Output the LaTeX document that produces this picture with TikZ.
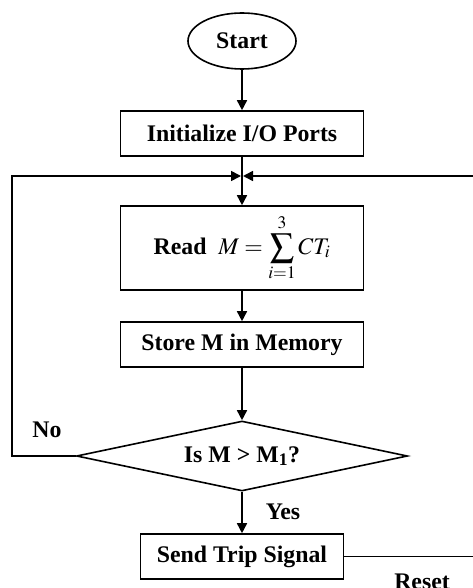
\documentclass[tikz,border=0pt]{standalone}
\usepackage{mathptmx}
\usepackage{fontspec}
\setmainfont{Liberation Serif}
\usetikzlibrary{shapes.geometric,arrows.meta}
\begin{document}
\begin{tikzpicture}[x=1pt,y=-1pt, line width=1.6pt,
  every node/.style={font=\fontsize{23.8}{28}\selectfont\bfseries},
  box/.style={draw, rectangle, minimum width=243pt, minimum height=45pt, inner sep=0pt},
  arr/.style={-{Triangle[length=10pt,width=10pt]}}
]
\useasboundingbox (0,0) rectangle (472,588);
\node[draw, ellipse, minimum width=108pt, minimum height=56pt, inner sep=0pt] (start) at (242,41) {Start};
\node[box] (init) at (242,133.5) {Initialize I/O Ports};
\coordinate (junc) at (242,176);
\node[box, minimum height=84pt] (read) at (242,248) {Read\ \ $\displaystyle M=\sum_{i=1}^{3}CT_i$};
\node[box] (store) at (242,344.5) {Store M in Memory};
\node[draw, diamond, aspect=4.7, minimum width=331pt, minimum height=70pt, inner sep=0pt] (dec) at (242,456) {Is M > M\textsubscript{1}?};
\node[box, minimum width=203pt] (send) at (242,556.5) {Send Trip Signal};
\coordinate (lcorner) at (12,456);
\coordinate (redge) at (473,176);
\coordinate (resetend) at (473,556.5);

\draw[arr] (start) -- (init);
\draw[arr] (init) -- (read);
\draw[arr, shorten >=1pt] (dec.west) -- (lcorner) |- (junc);
\draw[arr, shorten >=1pt] (redge) -- (junc);
\draw[arr] (read) -- (store);
\draw[arr] (store) -- (dec);
\draw[arr] (dec) -- (send);
\draw (send.east) -- (resetend);

\node (no) at (47,430) {No};
\node (yes) at (283,512) {Yes};
\node[anchor=base] (reset) at (422,589) {Reset};
\end{tikzpicture}
\end{document}
